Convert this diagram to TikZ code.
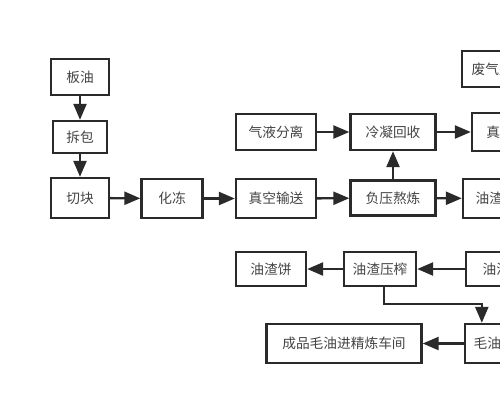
\documentclass[tikz,border=0pt]{standalone}
\usepackage{fontspec}
\newfontfamily\cjk{Noto Sans CJK SC}
\usetikzlibrary{arrows.meta}
\definecolor{edge}{HTML}{2A2A2A}
\definecolor{ink}{HTML}{444444}
\begin{document}
\begin{tikzpicture}[x=0.02cm,y=-0.02cm,
	box/.style={draw=edge,line width=1.35pt,fill=white,text=ink,inner sep=0pt,minimum width=#1,minimum height=0.72cm,font=\cjk\fontsize{7.8pt}{9pt}\selectfont},
	box/.default=1.16cm,
	arr/.style={draw=edge,line width=1.35pt,-{Triangle[length=0.32cm,width=0.26cm]}}]
	\useasboundingbox (0,0) rectangle (500,400);
	\clip (0,0) rectangle (500,400);
	\node[box] (banyou) at (80,77) {板油};
	\node[box=1.08cm,minimum height=0.64cm] (chaibao) at (80,137) {拆包};
	\node[box,minimum height=0.8cm] (qiekuai) at (80,198) {切块};
	\node[box=1.22cm,minimum height=0.78cm] (huadong) at (172,198.5) {化冻};
	\node[box=1.6cm,minimum height=0.78cm] (shusong) at (276,198.5) {真空输送};
	\node[box=1.6cm] (fenli) at (276,132) {气液分离};
	\node[box=1.7cm] (lengning) at (393,132) {冷凝回收};
	\node[box=1.7cm,minimum height=0.7cm] (aolian) at (393,198) {负压熬炼};
	\node[box=1.48cm] (feiqi) at (499,69) {废气处理};
	\node[box=1.4cm,minimum height=0.76cm] (zhenkong) at (507,132) {真空泵};
	\node[box=1.6cm,minimum height=0.78cm] (zhafen) at (503,198.5) {油渣分离};
	\node[box=1.76cm,minimum height=0.68cm] (zhacun) at (510,269) {油渣暂存};
	\node[box=1.44cm,minimum height=0.68cm] (yazha) at (380,269) {油渣压榨};
	\node[box=1.4cm,minimum height=0.68cm] (zhabing) at (271,269) {油渣饼};
	\node[box=3.1cm,minimum height=0.78cm] (chengpin) at (344,343.5) {成品毛油进精炼车间};
	\node[box=1.44cm,minimum height=0.78cm] (maoyou) at (501,343.5) {毛油储罐};
	\draw[arr] (banyou)--(chaibao);
	\draw[arr] (chaibao)--(qiekuai);
	\draw[arr] (qiekuai)--(huadong);
	\draw[arr] (huadong)--(shusong);
	\draw[arr] (shusong)--(aolian);
	\draw[arr] (aolian)--(lengning);
	\draw[arr] (fenli)--(lengning);
	\draw[arr] (lengning)--(zhenkong);
	\draw[arr] (aolian)--(zhafen);
	\draw[arr] (zhacun)--(yazha);
	\draw[arr] (yazha)--(zhabing);
	\draw[arr] ([xshift=0.08cm]yazha.south)--++(0,17)-|([xshift=0.36cm]maoyou.north west);
	\draw[arr] (maoyou)--(chengpin);
\end{tikzpicture}
\end{document}
